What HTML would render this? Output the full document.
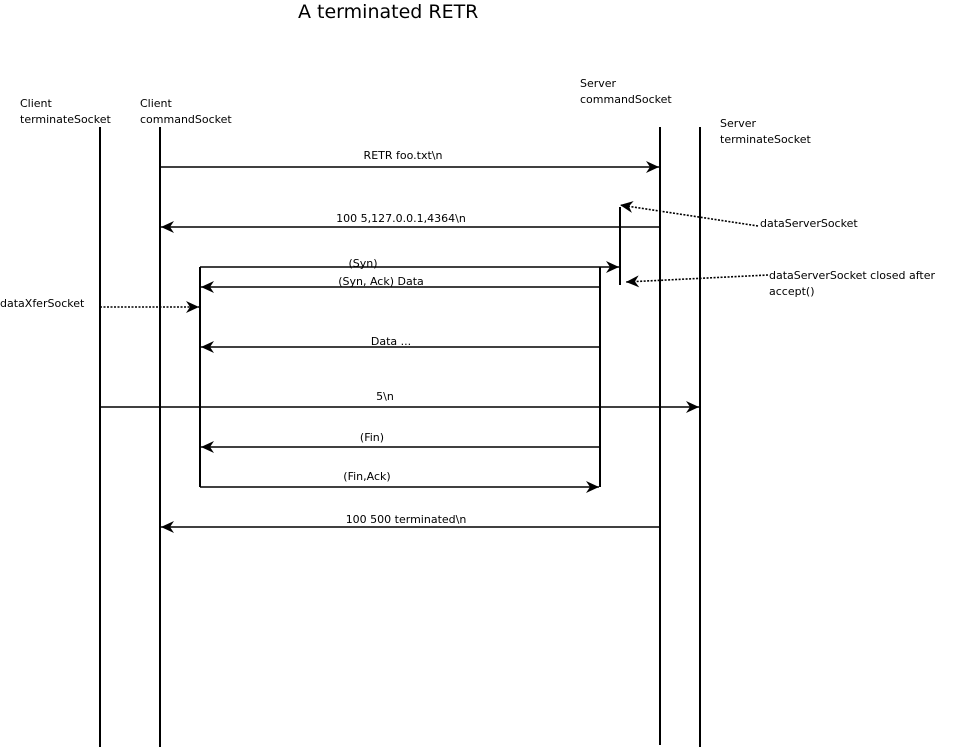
<!DOCTYPE html>
<html><head><meta charset="utf-8"><style>
html,body{margin:0;padding:0;background:#fff;}
svg{display:block;font-family:"DejaVu Sans","Liberation Sans",sans-serif;}
text{font-size:11px;fill:#000;}
</style></head><body>
<svg width="961" height="747" viewBox="0 0 961 747" xmlns="http://www.w3.org/2000/svg">
<defs>
<marker id="a" markerWidth="14" markerHeight="12" refX="13" refY="6" orient="auto" markerUnits="userSpaceOnUse">
<path d="M0,0 L13,6 L0,12 L4,6 Z" fill="#000"/>
</marker>
</defs>
<text x="298" y="18" style="font-size:19px">A terminated RETR</text>
<text x="20" y="107">Client</text><text x="20" y="123">terminateSocket</text>
<text x="140" y="107">Client</text><text x="140" y="123">commandSocket</text>
<text x="580" y="87">Server</text><text x="580" y="103">commandSocket</text>
<text x="720" y="127">Server</text><text x="720" y="143">terminateSocket</text>
<g stroke="#000" stroke-width="2" fill="none">
<line x1="100" y1="127" x2="100" y2="747"/>
<line x1="160" y1="127" x2="160" y2="747"/>
<line x1="660" y1="127" x2="660" y2="745"/>
<line x1="700" y1="127" x2="700" y2="747"/>
<line x1="200" y1="267" x2="200" y2="487"/>
<line x1="600" y1="267" x2="600" y2="487"/>
<line x1="620" y1="207" x2="620" y2="285"/>
</g>
<g stroke="#000" stroke-width="1.6" fill="none">
<line x1="160" y1="167" x2="659" y2="167" marker-end="url(#a)"/>
<line x1="660" y1="227" x2="161" y2="227" marker-end="url(#a)"/>
<line x1="200" y1="267" x2="619" y2="267" marker-end="url(#a)"/>
<line x1="600" y1="287" x2="201" y2="287" marker-end="url(#a)"/>
<line x1="600" y1="347" x2="201" y2="347" marker-end="url(#a)"/>
<line x1="100" y1="407" x2="699" y2="407" marker-end="url(#a)"/>
<line x1="600" y1="447" x2="201" y2="447" marker-end="url(#a)"/>
<line x1="200" y1="487" x2="599" y2="487" marker-end="url(#a)"/>
<line x1="660" y1="527" x2="161" y2="527" marker-end="url(#a)"/>
<line x1="100" y1="307" x2="199" y2="307" stroke-dasharray="2,1.5" marker-end="url(#a)"/>
<line x1="758" y1="226" x2="620" y2="205" stroke-dasharray="2,1.5" marker-end="url(#a)"/>
<line x1="768" y1="275" x2="626" y2="282" stroke-dasharray="2,1.5" marker-end="url(#a)"/>
</g>
<text x="403" y="159" text-anchor="middle">RETR foo.txt\n</text>
<text x="401" y="222" text-anchor="middle">100 5,127.0.0.1,4364\n</text>
<text x="363" y="267" text-anchor="middle">(Syn)</text>
<text x="381" y="285" text-anchor="middle">(Syn, Ack) Data</text>
<text x="0" y="307">dataXferSocket</text>
<text x="391" y="345" text-anchor="middle">Data ...</text>
<text x="385" y="400" text-anchor="middle">5\n</text>
<text x="372" y="441" text-anchor="middle">(Fin)</text>
<text x="367" y="480" text-anchor="middle">(Fin,Ack)</text>
<text x="406" y="523" text-anchor="middle">100 500 terminated\n</text>
<text x="760" y="227">dataServerSocket</text>
<text x="769" y="279">dataServerSocket closed after</text>
<text x="769" y="295">accept()</text>
</svg>
</body></html>
